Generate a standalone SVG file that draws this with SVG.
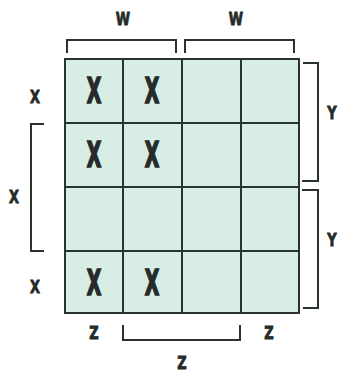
<svg xmlns="http://www.w3.org/2000/svg" width="339" height="374" viewBox="0 0 339 374">
<style>
.cell{fill:#d8ede3;stroke:#2a332e;stroke-width:2}
.br{fill:none;stroke:#2a332e;stroke-width:2}
.big{font-family:"DejaVu Sans Condensed","DejaVu Sans",sans-serif;font-stretch:condensed;font-weight:bold;font-size:35px;fill:#252b28;stroke:#252b28;stroke-width:1.6;text-anchor:middle}
.lab{font-family:"DejaVu Sans Condensed","DejaVu Sans",sans-serif;font-stretch:condensed;font-weight:bold;font-size:18px;fill:#252b28;stroke:#252b28;stroke-width:0.8;text-anchor:middle}
</style>
<rect width="339" height="374" fill="#ffffff"/>
<g id="grid">
<rect class="cell" x="65" y="59" width="58" height="64"/>
<rect class="cell" x="123" y="59" width="59" height="64"/>
<rect class="cell" x="182" y="59" width="59" height="64"/>
<rect class="cell" x="241" y="59" width="58" height="64"/>
<rect class="cell" x="65" y="123" width="58" height="64"/>
<rect class="cell" x="123" y="123" width="59" height="64"/>
<rect class="cell" x="182" y="123" width="59" height="64"/>
<rect class="cell" x="241" y="123" width="58" height="64"/>
<rect class="cell" x="65" y="187" width="58" height="64"/>
<rect class="cell" x="123" y="187" width="59" height="64"/>
<rect class="cell" x="182" y="187" width="59" height="64"/>
<rect class="cell" x="241" y="187" width="58" height="64"/>
<rect class="cell" x="65" y="251" width="58" height="62"/>
<rect class="cell" x="123" y="251" width="59" height="62"/>
<rect class="cell" x="182" y="251" width="59" height="62"/>
<rect class="cell" x="241" y="251" width="58" height="62"/>
</g>
<g id="marks">
<text class="big" transform="translate(94,103) scale(0.6,1)">X</text>
<text class="big" transform="translate(152,103) scale(0.6,1)">X</text>
<text class="big" transform="translate(94,167) scale(0.6,1)">X</text>
<text class="big" transform="translate(152,167) scale(0.6,1)">X</text>
<text class="big" transform="translate(94,295) scale(0.6,1)">X</text>
<text class="big" transform="translate(152,295) scale(0.6,1)">X</text>
</g>
<g id="brackets">
<path class="br" d="M67,53 V40 H176 V53"/>
<path class="br" d="M185,53 V40 H294 V53"/>
<path class="br" d="M303,63 H318 V181 H302"/>
<path class="br" d="M302,190 H318 V308 H303"/>
<path class="br" d="M44,124 H31 V251 H44"/>
<path class="br" d="M123,325 V340 H240 V325"/>
</g>
<g id="labels">
<text class="lab" transform="translate(123,25) scale(0.8,1)">W</text>
<text class="lab" transform="translate(236,25) scale(0.8,1)">W</text>
<text class="lab" transform="translate(35,103) scale(0.8,1)">X</text>
<text class="lab" transform="translate(14,203) scale(0.8,1)">X</text>
<text class="lab" transform="translate(35,293) scale(0.8,1)">X</text>
<text class="lab" transform="translate(332,119) scale(0.8,1)">Y</text>
<text class="lab" transform="translate(332,246) scale(0.8,1)">Y</text>
<text class="lab" transform="translate(94,339) scale(0.8,1)">Z</text>
<text class="lab" transform="translate(269,339) scale(0.8,1)">Z</text>
<text class="lab" transform="translate(182,369) scale(0.8,1)">Z</text>
</g>
</svg>
